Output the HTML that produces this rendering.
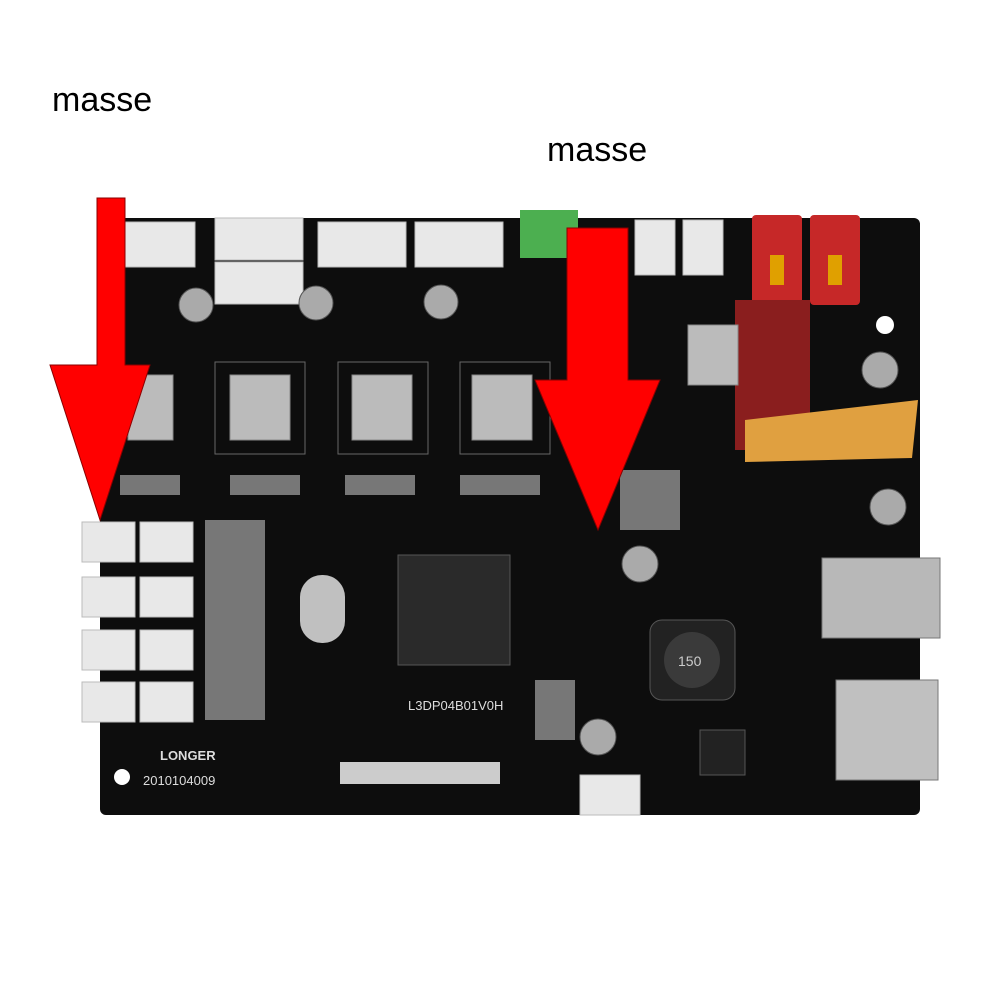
<!DOCTYPE html>
<html><head><style>
body{margin:0;background:#fff;width:1000px;height:1000px;overflow:hidden}
svg{display:block}
</style></head><body>
<svg width="1000" height="1000" viewBox="0 0 1000 1000" xmlns="http://www.w3.org/2000/svg" font-family="Liberation Sans, sans-serif">
<rect width="1000" height="1000" fill="#fff"/>
<rect x="100" y="218" width="820" height="597" rx="6" fill="#0d0d0d"/>
<g fill="#e8e8e8" stroke="#bbb">
<rect x="125" y="222" width="70" height="45"/>
<rect x="215" y="218" width="88" height="42"/>
<rect x="215" y="262" width="88" height="42"/>
<rect x="318" y="222" width="88" height="45"/>
<rect x="415" y="222" width="88" height="45"/>
<rect x="635" y="220" width="40" height="55"/>
<rect x="683" y="220" width="40" height="55"/>
</g>
<rect x="520" y="210" width="58" height="48" fill="#4caf50"/>
<rect x="752" y="215" width="50" height="90" rx="4" fill="#c62828"/>
<rect x="810" y="215" width="50" height="90" rx="4" fill="#c62828"/>
<rect x="770" y="255" width="14" height="30" fill="#e0a000"/>
<rect x="828" y="255" width="14" height="30" fill="#e0a000"/>
<rect x="735" y="300" width="75" height="150" fill="#8a1e1e"/>
<polygon points="745,420 918,400 912,458 745,462" fill="#e0a040"/>
<g fill="none" stroke="#666">
<rect x="215" y="362" width="90" height="92"/>
<rect x="338" y="362" width="90" height="92"/>
<rect x="460" y="362" width="90" height="92"/>
</g>
<g fill="#bbb" stroke="#888">
<rect x="128" y="375" width="45" height="65"/>
<rect x="230" y="375" width="60" height="65"/>
<rect x="352" y="375" width="60" height="65"/>
<rect x="472" y="375" width="60" height="65"/>
<rect x="688" y="325" width="50" height="60"/>
</g>
<g fill="#aaa" stroke="#555">
<circle cx="196" cy="305" r="17"/><circle cx="316" cy="303" r="17"/><circle cx="441" cy="302" r="17"/>
<circle cx="880" cy="370" r="18"/><circle cx="888" cy="507" r="18"/><circle cx="640" cy="564" r="18"/><circle cx="598" cy="737" r="18"/>
</g>
<g fill="#777">
<rect x="120" y="475" width="60" height="20"/><rect x="230" y="475" width="70" height="20"/><rect x="345" y="475" width="70" height="20"/><rect x="460" y="475" width="80" height="20"/>
<rect x="205" y="520" width="60" height="200"/><rect x="620" y="470" width="60" height="60"/><rect x="535" y="680" width="40" height="60"/>
</g>
<rect x="398" y="555" width="112" height="110" fill="#2a2a2a" stroke="#555"/>
<rect x="300" y="575" width="45" height="68" rx="22" fill="#c0c0c0"/>
<rect x="650" y="620" width="85" height="80" rx="12" fill="#222" stroke="#555"/>
<circle cx="692" cy="660" r="28" fill="#3a3a3a"/>
<text x="678" y="666" fill="#ccc" font-size="14">150</text>
<rect x="822" y="558" width="118" height="80" fill="#b8b8b8" stroke="#777"/>
<rect x="836" y="680" width="102" height="100" fill="#c0c0c0" stroke="#777"/>
<g fill="#e8e8e8" stroke="#bbb">
<rect x="82" y="522" width="53" height="40"/><rect x="140" y="522" width="53" height="40"/>
<rect x="82" y="577" width="53" height="40"/><rect x="140" y="577" width="53" height="40"/>
<rect x="82" y="630" width="53" height="40"/><rect x="140" y="630" width="53" height="40"/>
<rect x="82" y="682" width="53" height="40"/><rect x="140" y="682" width="53" height="40"/>
<rect x="580" y="775" width="60" height="40"/>
</g>
<rect x="340" y="762" width="160" height="22" fill="#ccc"/>
<rect x="700" y="730" width="45" height="45" fill="#222" stroke="#555"/>
<circle cx="122" cy="777" r="8" fill="#fff"/><circle cx="885" cy="325" r="9" fill="#fff"/>
<text x="143" y="785" fill="#ddd" font-size="13">2010104009</text>
<text x="160" y="760" fill="#ddd" font-size="13" font-weight="bold">LONGER</text>
<text x="408" y="710" fill="#ddd" font-size="13">L3DP04B01V0H</text>
<g fill="#ff0000" stroke="#8a0000" stroke-width="1">
<polygon points="97,198 125,198 125,365 150,365 100,520 50,365 97,365"/>
<polygon points="567,228 628,228 628,380 660,380 598,530 535,380 567,380"/>
</g>
<text x="52" y="111" font-size="34" fill="#000">masse</text>
<text x="547" y="161" font-size="34" fill="#000">masse</text>
</svg>
</body></html>
